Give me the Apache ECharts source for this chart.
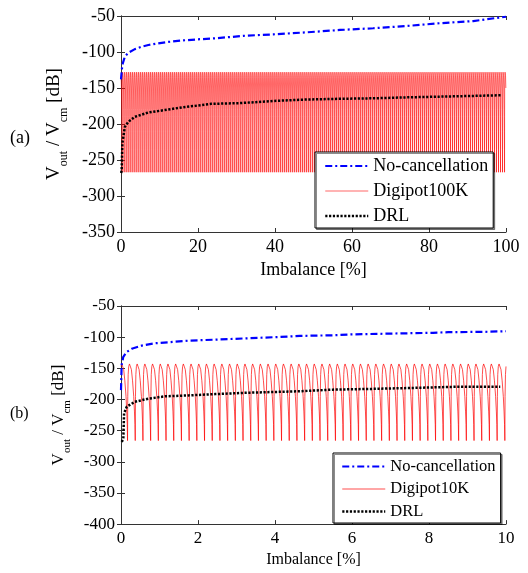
<!DOCTYPE html>
<html><head><meta charset="utf-8">
<script src="https://cdn.jsdelivr.net/npm/echarts@6/dist/echarts.min.js"></script>
<style>html,body{margin:0;padding:0;background:#fff;}#a{position:absolute;left:0;top:0;width:528px;height:290px;}#b{position:absolute;left:0;top:290px;width:528px;height:283px;}</style>
</head><body><div id="a"></div><div id="b"></div>
<script>
// ---------- Panel (a) data ----------
const aXTicks = [0, 20, 40, 60, 80, 100];
const aYTicks = [-350, -300, -250, -200, -150, -100, -50];
const aNoCancX = [0, 0.34, 1.0, 1.9, 3.6, 5.4, 7.1, 9.7, 12.3, 15.8, 20, 24.4, 28.8, 31.8, 39.6, 48.2, 56.9, 65.5, 74.2, 82.9, 91.5, 100];
const aNoCancY = [-138, -118, -106.5, -101, -96, -92.6, -90.3, -88, -86, -84, -82.4, -81, -79, -77.5, -75.5, -72.7, -69.4, -67, -63.9, -60, -57, -51];
const aDrlX = [0.05, 0.17, 0.35, 1, 1.9, 3.6, 7.1, 11.4, 15.8, 23.5, 30.9, 39.6, 48.2, 56.9, 65.5, 74.2, 82.9, 91.5, 99];
const aDrlY = [-268, -264, -227, -204, -197, -190, -184, -180.6, -177, -172, -171, -168, -166, -165, -164.3, -163, -162, -161, -160];
// Digipot100K: one read cycle shape (phase within a cycle -> dB), repeated at the read notch spacing
const aDigiPhase = [0, 0.03, 0.08, 0.15, 0.25, 0.35, 0.5, 0.65, 0.8, 0.9, 0.96];
const aDigiDb = [-267, -190, -150, -135, -128, -127, -133, -150, -180, -210, -235];
const aDigiFirstNotch = 0.3, aDigiPeriod = 0.52;

// ---------- Panel (b) data ----------
const bXTicks = [0, 2, 4, 6, 8, 10];
const bYTicks = [-400, -350, -300, -250, -200, -150, -100, -50];
const bNoCancX = [0, 0.017, 0.06, 0.15, 0.28, 0.54, 0.88, 1.23, 1.75, 2.44, 3.22, 4.0, 4.65, 5.5, 6.0, 7.25, 8.1, 8.5, 9.4, 10];
const bNoCancY = [-185, -144.5, -131.5, -123.7, -118.6, -113.5, -109.8, -108.2, -105.7, -104, -102, -100, -98, -97, -95.5, -94, -93, -92, -91.5, -90.5];
const bDrlX = [0.02, 0.06, 0.08, 0.15, 0.36, 0.71, 1.14, 1.75, 2.44, 3.18, 4.65, 5.5, 6.38, 7.5, 8.8, 9.85];
const bDrlY = [-268, -263, -222, -211.5, -203.8, -198.7, -195, -193.5, -191.4, -189.4, -186.8, -184.2, -183.2, -181.6, -179.5, -179.5];
const bDigiPhase = [0, 0.03, 0.08, 0.15, 0.25, 0.35, 0.5, 0.65, 0.8, 0.9, 0.96];
const bDigiDb = [-266, -195, -160, -147, -143, -144, -152, -170, -195, -220, -240];
const bDigiFirstNotch = 0.17, bDigiPeriod = 0.2;

const FONT = 'Liberation Serif';

function pairs(xs, ys) { return xs.map((x, i) => [x, ys[i]]); }
function cycles(phase, db, first, period, xmax) {
  const out = [];
  for (let x0 = first - period; x0 <= xmax; x0 += period) {
    for (let j = 0; j < phase.length; j++) {
      const x = x0 + phase[j] * period;
      if (x >= 0 && x <= xmax) out.push([x, db[j]]);
    }
  }
  return out;
}

function makeOption(cfg) {
  const axisCol = '#333';
  const fs = cfg.fs;
  const grid = { left: 121, top: cfg.gridTop, width: 385, height: cfg.gridH };
  const xBase = { type: 'value', min: cfg.xTicks[0], max: cfg.xTicks[cfg.xTicks.length - 1], interval: cfg.xTicks[1] - cfg.xTicks[0],
    splitLine: { show: false }, axisLine: { show: true, lineStyle: { color: axisCol, width: 1 } },
    axisTick: { show: true, inside: true, length: 4, lineStyle: { color: axisCol } } };
  const yBase = { type: 'value', min: cfg.yTicks[0], max: cfg.yTicks[cfg.yTicks.length - 1], interval: 50,
    splitLine: { show: false }, axisLine: { show: true, lineStyle: { color: axisCol, width: 1 } },
    axisTick: { show: true, inside: true, length: 4, lineStyle: { color: axisCol } } };
  return {
    animation: false,
    backgroundColor: '#fff',
    textStyle: { fontFamily: FONT },
    grid: grid,
    xAxis: [
      Object.assign({}, xBase, { position: 'bottom',
        axisLabel: { color: '#000', fontFamily: FONT, fontSize: fs, margin: 6 },
        name: 'Imbalance [%]', nameLocation: 'middle', nameGap: cfg.xNameGap,
        nameTextStyle: { color: '#000', fontFamily: FONT, fontSize: cfg.nameFs } }),
      Object.assign({}, xBase, { position: 'top', axisLabel: { show: false } })
    ],
    yAxis: [
      Object.assign({}, yBase, { position: 'left',
        axisLabel: { color: '#000', fontFamily: FONT, fontSize: fs, margin: 6 },
        name: 'V{s|out} / V{s|cm} [dB]', nameLocation: 'middle', nameRotate: 90, nameGap: cfg.yNameGap,
        nameTextStyle: { color: '#000', fontFamily: FONT, fontSize: cfg.nameFs + 1,
          rich: { s: { fontFamily: FONT, fontSize: Math.round(cfg.nameFs * 0.68), color: '#000', verticalAlign: 'bottom', padding: [0, 0, -6, 0] } } } }),
      Object.assign({}, yBase, { position: 'right', axisLabel: { show: false } })
    ],
    legend: {
      orient: 'vertical', left: cfg.legLeft, top: cfg.legTop,
      itemWidth: 43, itemHeight: 10, itemGap: cfg.legGap,
      padding: cfg.legPad,
      borderColor: '#000', borderWidth: 1, backgroundColor: '#fff',
      shadowColor: 'rgba(0,0,0,0.45)', shadowOffsetX: 1.5, shadowOffsetY: 1.5, shadowBlur: 0,
      itemStyle: { opacity: 0, borderWidth: 0 },
      lineStyle: { width: 'inherit' },
      textStyle: { color: '#000', fontFamily: FONT, fontSize: cfg.legFs },
      data: [cfg.names[0], cfg.names[1], cfg.names[2]]
    },
    graphic: [{ type: 'text', left: 10, top: cfg.labelTop, style: { text: cfg.label, font: cfg.nameFs + 'px "' + FONT + '"', fill: '#000' } }],
    series: [
      { name: cfg.names[1], type: 'line', data: cfg.digi, showSymbol: false, symbol: 'none', sampling: 'none',
        lineStyle: { color: '#ff0000', width: cfg.redW }, itemStyle: { color: '#ff0000' }, z: 2 },
      { name: cfg.names[2], type: 'line', data: cfg.drl, showSymbol: false, symbol: 'none', smooth: false,
        lineStyle: { color: '#000', width: 2.5, type: [2.2, 1.6] }, itemStyle: { color: '#000' }, z: 3 },
      { name: cfg.names[0], type: 'line', data: cfg.nocanc, showSymbol: false, symbol: 'none',
        lineStyle: { color: '#0000ff', width: 2.2, type: [7, 3, 2, 3] }, itemStyle: { color: '#0000ff' }, z: 4 }
    ]
  };
}

const chartA = echarts.init(document.getElementById('a'), null, { renderer: 'canvas' });
chartA.setOption(makeOption({
  fs: 18, nameFs: 18, legFs: 18, gridTop: 16, gridH: 216, xTicks: aXTicks, yTicks: aYTicks, xNameGap: 29, yNameGap: 57,
  legLeft: 315, legTop: 152, legGap: 7, legPad: [5, 5, 3, 9], redW: 0.6,
  label: '(a)', labelTop: 129,
  names: ['No-cancellation', 'Digipot100K', 'DRL'],
  nocanc: pairs(aNoCancX, aNoCancY), drl: pairs(aDrlX, aDrlY),
  digi: cycles(aDigiPhase, aDigiDb, aDigiFirstNotch, aDigiPeriod, 100)
}));
const chartB = echarts.init(document.getElementById('b'), null, { renderer: 'canvas' });
chartB.setOption(makeOption({
  fs: 17, nameFs: 16, legFs: 16.5, gridTop: 16, gridH: 226, xTicks: bXTicks, yTicks: bYTicks, xNameGap: 27, yNameGap: 47,
  legLeft: 333, legTop: 163, legGap: 5.5, legPad: [5, 5, 3, 8], redW: 0.7,
  label: '(b)', labelTop: 116,
  names: ['No-cancellation', 'Digipot10K', 'DRL'],
  nocanc: pairs(bNoCancX, bNoCancY), drl: pairs(bDrlX, bDrlY),
  digi: cycles(bDigiPhase, bDigiDb, bDigiFirstNotch, bDigiPeriod, 10)
}));
</script></body></html>
